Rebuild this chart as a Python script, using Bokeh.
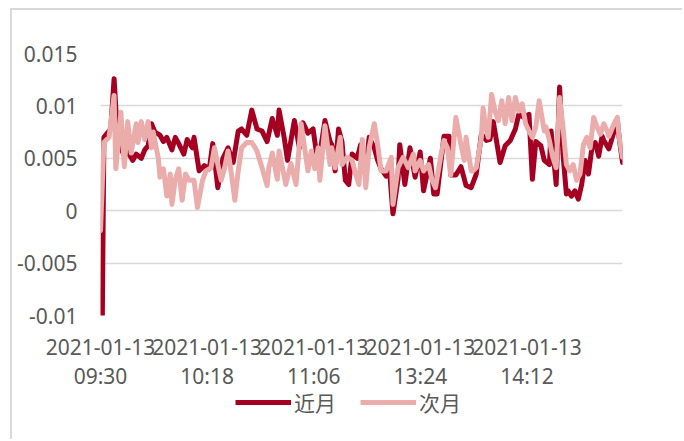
from bokeh.plotting import figure
from bokeh.layouts import column
from bokeh.models import Range1d, FixedTicker, Legend, LegendItem, LinearAxis
from bokeh.embed import file_html
from bokeh.resources import INLINE

# sample position along the session (0..307 spans the whole session) and basis values
near_t = [1, 2, 4, 6, 8, 10, 12, 14, 16, 19, 21, 24, 26, 28, 30, 32, 35, 37, 39, 42,
          44, 46, 49, 51, 54, 55, 58, 61, 64, 66, 69, 72, 75, 78, 81, 83, 86, 89, 92, 95,
          98, 101, 104, 105, 108, 110, 114, 117, 119, 122, 125, 128, 132, 135, 136, 138, 140, 142, 144, 146,
          148, 151, 153, 156, 158, 161, 163, 165, 168, 170, 172, 175, 176, 179, 182, 185, 188, 190, 194, 196,
          198, 202, 205, 206, 209, 212, 215, 218, 221, 224, 227, 229, 231, 235, 238, 241, 244, 246, 249, 252,
          254, 256, 259, 261, 264, 265, 268, 270, 272, 274, 275, 277, 279, 281, 283, 285, 287, 289, 291, 293,
          295, 296, 299, 301, 304, 305, 307]
near_v = [-0.0115, 0.0070, 0.0074, 0.0078, 0.0126, 0.0070, 0.0060, 0.0052, 0.0056, 0.0048,
          0.0054, 0.0050, 0.0058, 0.0062, 0.0083, 0.0075, 0.0072, 0.0066, 0.0070, 0.0058,
          0.0070, 0.0064, 0.0054, 0.0068, 0.0060, 0.0070, 0.0038, 0.0043, 0.0040, 0.0064,
          0.0022, 0.0050, 0.0060, 0.0046, 0.0076, 0.0078, 0.0072, 0.0096, 0.0078, 0.0076,
          0.0066, 0.0088, 0.0072, 0.0096, 0.0070, 0.0048, 0.0086, 0.0060, 0.0084, 0.0074,
          0.0078, 0.0044, 0.0086, 0.0066, 0.0063, 0.0038, 0.0078, 0.0066, 0.0029, 0.0025,
          0.0054, 0.0050, 0.0063, 0.0038, 0.0070, 0.0060, 0.0048, 0.0040, 0.0033, 0.0038,
          -0.0003, 0.0030, 0.0063, 0.0025, 0.0060, 0.0032, 0.0056, 0.0019, 0.0050, 0.0016,
          0.0016, 0.0071, 0.0071, 0.0034, 0.0034, 0.0042, 0.0024, 0.0022, 0.0035, 0.0073,
          0.0067, 0.0068, 0.0085, 0.0046, 0.0062, 0.0067, 0.0078, 0.0092, 0.0089, 0.0092,
          0.0030, 0.0066, 0.0062, 0.0048, 0.0044, 0.0076, 0.0025, 0.0118, 0.0054, 0.0016,
          0.0019, 0.0014, 0.0019, 0.0011, 0.0025, 0.0048, 0.0035, 0.0060, 0.0065, 0.0052,
          0.0071, 0.0067, 0.0059, 0.0070, 0.0086, 0.0070, 0.0046]

next_t = [0, 2, 5, 8, 9, 12, 14, 16, 18, 21, 22, 24, 26, 28, 30, 31, 34, 35, 37, 39,
          41, 42, 44, 46, 48, 50, 52, 55, 57, 60, 62, 65, 67, 69, 71, 73, 75, 77, 79, 81,
          83, 86, 89, 91, 92, 95, 98, 99, 101, 104, 105, 107, 109, 112, 115, 118, 122, 124, 126, 128,
          129, 132, 135, 136, 138, 141, 142, 145, 148, 150, 152, 154, 156, 158, 161, 163, 165, 168, 171, 172,
          175, 178, 181, 184, 185, 188, 190, 193, 195, 197, 200, 202, 204, 206, 209, 212, 214, 215, 218, 219,
          221, 224, 225, 226, 228, 230, 232, 234, 236, 238, 240, 242, 244, 246, 248, 250, 252, 254, 256, 258,
          261, 262, 264, 266, 268, 270, 272, 274, 276, 278, 280, 282, 284, 286, 288, 290, 292, 294, 296, 298,
          299, 302, 304, 305, 307]
next_v = [-0.0019, 0.0065, 0.0070, 0.0110, 0.0040, 0.0094, 0.0042, 0.0085, 0.0055, 0.0083,
          0.0065, 0.0085, 0.0068, 0.0085, 0.0060, 0.0075, 0.0050, 0.0032, 0.0040, 0.0014,
          0.0035, 0.0006, 0.0030, 0.0040, 0.0010, 0.0035, 0.0029, 0.0029, 0.0003, 0.0029,
          0.0038, 0.0041, 0.0060, 0.0044, 0.0029, 0.0041, 0.0057, 0.0035, 0.0010, 0.0038,
          0.0060, 0.0065, 0.0065, 0.0060, 0.0057, 0.0041, 0.0024, 0.0041, 0.0055, 0.0030,
          0.0057, 0.0041, 0.0025, 0.0045, 0.0025, 0.0083, 0.0038, 0.0057, 0.0040, 0.0060,
          0.0029, 0.0081, 0.0044, 0.0060, 0.0041, 0.0070, 0.0044, 0.0051, 0.0048, 0.0035,
          0.0025, 0.0068, 0.0022, 0.0060, 0.0083, 0.0063, 0.0038, 0.0038, 0.0051, 0.0006,
          0.0041, 0.0051, 0.0041, 0.0054, 0.0038, 0.0048, 0.0038, 0.0044, 0.0029, 0.0022,
          0.0051, 0.0067, 0.0060, 0.0034, 0.0089, 0.0063, 0.0048, 0.0070, 0.0038, 0.0038,
          0.0041, 0.0070, 0.0098, 0.0086, 0.0070, 0.0111, 0.0095, 0.0086, 0.0105, 0.0083,
          0.0108, 0.0086, 0.0108, 0.0095, 0.0102, 0.0083, 0.0076, 0.0070, 0.0080, 0.0105,
          0.0076, 0.0080, 0.0067, 0.0051, 0.0041, 0.0108, 0.0080, 0.0044, 0.0038, 0.0044,
          0.0029, 0.0035, 0.0063, 0.0070, 0.0060, 0.0089, 0.0080, 0.0073, 0.0083, 0.0076,
          0.0071, 0.0083, 0.0089, 0.0070, 0.0051]

series_names = ["近月", "次月"]
date_label = "2021-01-13"
time_labels = ["09:30", "10:18", "11:06", "13:24", "14:12"]
time_label_minutes = [0, 48, 96, 144, 192]
session_minutes = 235
session_samples = 307
y_ticks = [-0.01, -0.005, 0, 0.005, 0.01, 0.015]
y_tick_text = ["-0.01", "-0.005", "0", "0.005", "0.01", "0.015"]

DARK = "#A50021"
PINK = "#EBADAC"
TXT = "#595959"
GRID = "#D9D9D9"
LATIN = "Noto Sans"
CJK = "Noto Sans CJK SC"


def style_axis(ax, standoff):
    ax.axis_line_color = None
    ax.major_tick_line_color = None
    ax.minor_tick_line_color = None
    ax.major_tick_out = 0
    ax.major_tick_in = 0
    ax.major_label_standoff = standoff
    ax.major_label_text_font = LATIN
    ax.major_label_text_font_size = "21px"
    ax.major_label_text_color = TXT


x_ticks = [m * session_samples / session_minutes for m in time_label_minutes]

# main chart: lines, y axis, two rows of category labels (date, then time)
p = figure(width=670, height=383, output_backend="svg", toolbar_location=None,
           x_range=Range1d(0, session_samples), y_range=Range1d(-0.01, 0.015),
           min_border_left=88, min_border_right=60, min_border_top=43, min_border_bottom=78)
p.outline_line_color = None
p.background_fill_color = "white"
p.border_fill_color = "white"

p.line(near_t, near_v, line_color=DARK, line_width=5, line_join="round", line_cap="round")
p.line(next_t, next_v, line_color=PINK, line_width=5, line_join="round", line_cap="round")

p.xgrid.visible = False
p.ygrid.grid_line_color = GRID
p.ygrid.grid_line_width = 1.5

p.xaxis.ticker = FixedTicker(ticks=x_ticks)
p.xaxis.major_label_overrides = {x: date_label for x in x_ticks}
style_axis(p.xaxis[0], 23)

time_axis = LinearAxis(ticker=FixedTicker(ticks=x_ticks),
                       major_label_overrides={x: t for x, t in zip(x_ticks, time_labels)})
style_axis(time_axis, 4)
p.add_layout(time_axis, "below")

p.yaxis.ticker = FixedTicker(ticks=y_ticks)
p.yaxis.major_label_overrides = dict(zip(y_ticks, y_tick_text))
style_axis(p.yaxis[0], 23)

# legend strip below the chart
q = figure(width=670, height=46, output_backend="svg", toolbar_location=None,
           x_range=p.x_range, y_range=Range1d(1, 2), x_axis_type=None, y_axis_type=None,
           min_border_left=88, min_border_right=60, min_border_top=0, min_border_bottom=0)
q.outline_line_color = None
q.background_fill_color = "white"
q.border_fill_color = "white"
q.xgrid.visible = False
q.ygrid.visible = False

# legend keys: the same series, drawn below this strip's visible y range
k1 = q.line(near_t, near_v, line_color=DARK, line_width=5)
k2 = q.line(next_t, next_v, line_color=PINK, line_width=5)
legend = Legend(items=[LegendItem(label=series_names[0], renderers=[k1]),
                       LegendItem(label=series_names[1], renderers=[k2])],
                orientation="horizontal", location=(135, 22))
legend.padding = 0
legend.margin = 0
legend.spacing = 24
legend.glyph_width = 56
legend.glyph_height = 22
legend.label_height = 22
legend.label_standoff = 3
legend.border_line_color = None
legend.background_fill_alpha = 0
legend.label_text_font = CJK
legend.label_text_font_size = "21px"
legend.label_text_color = TXT
q.add_layout(legend, "center")

layout = column(p, q, spacing=0,
                styles={"margin-left": "10px", "margin-top": "8px",
                        "border-left": "2px solid #D9D9D9", "border-top": "2px solid #D9D9D9"})

open("out.html", "w").write(file_html(layout, INLINE))
